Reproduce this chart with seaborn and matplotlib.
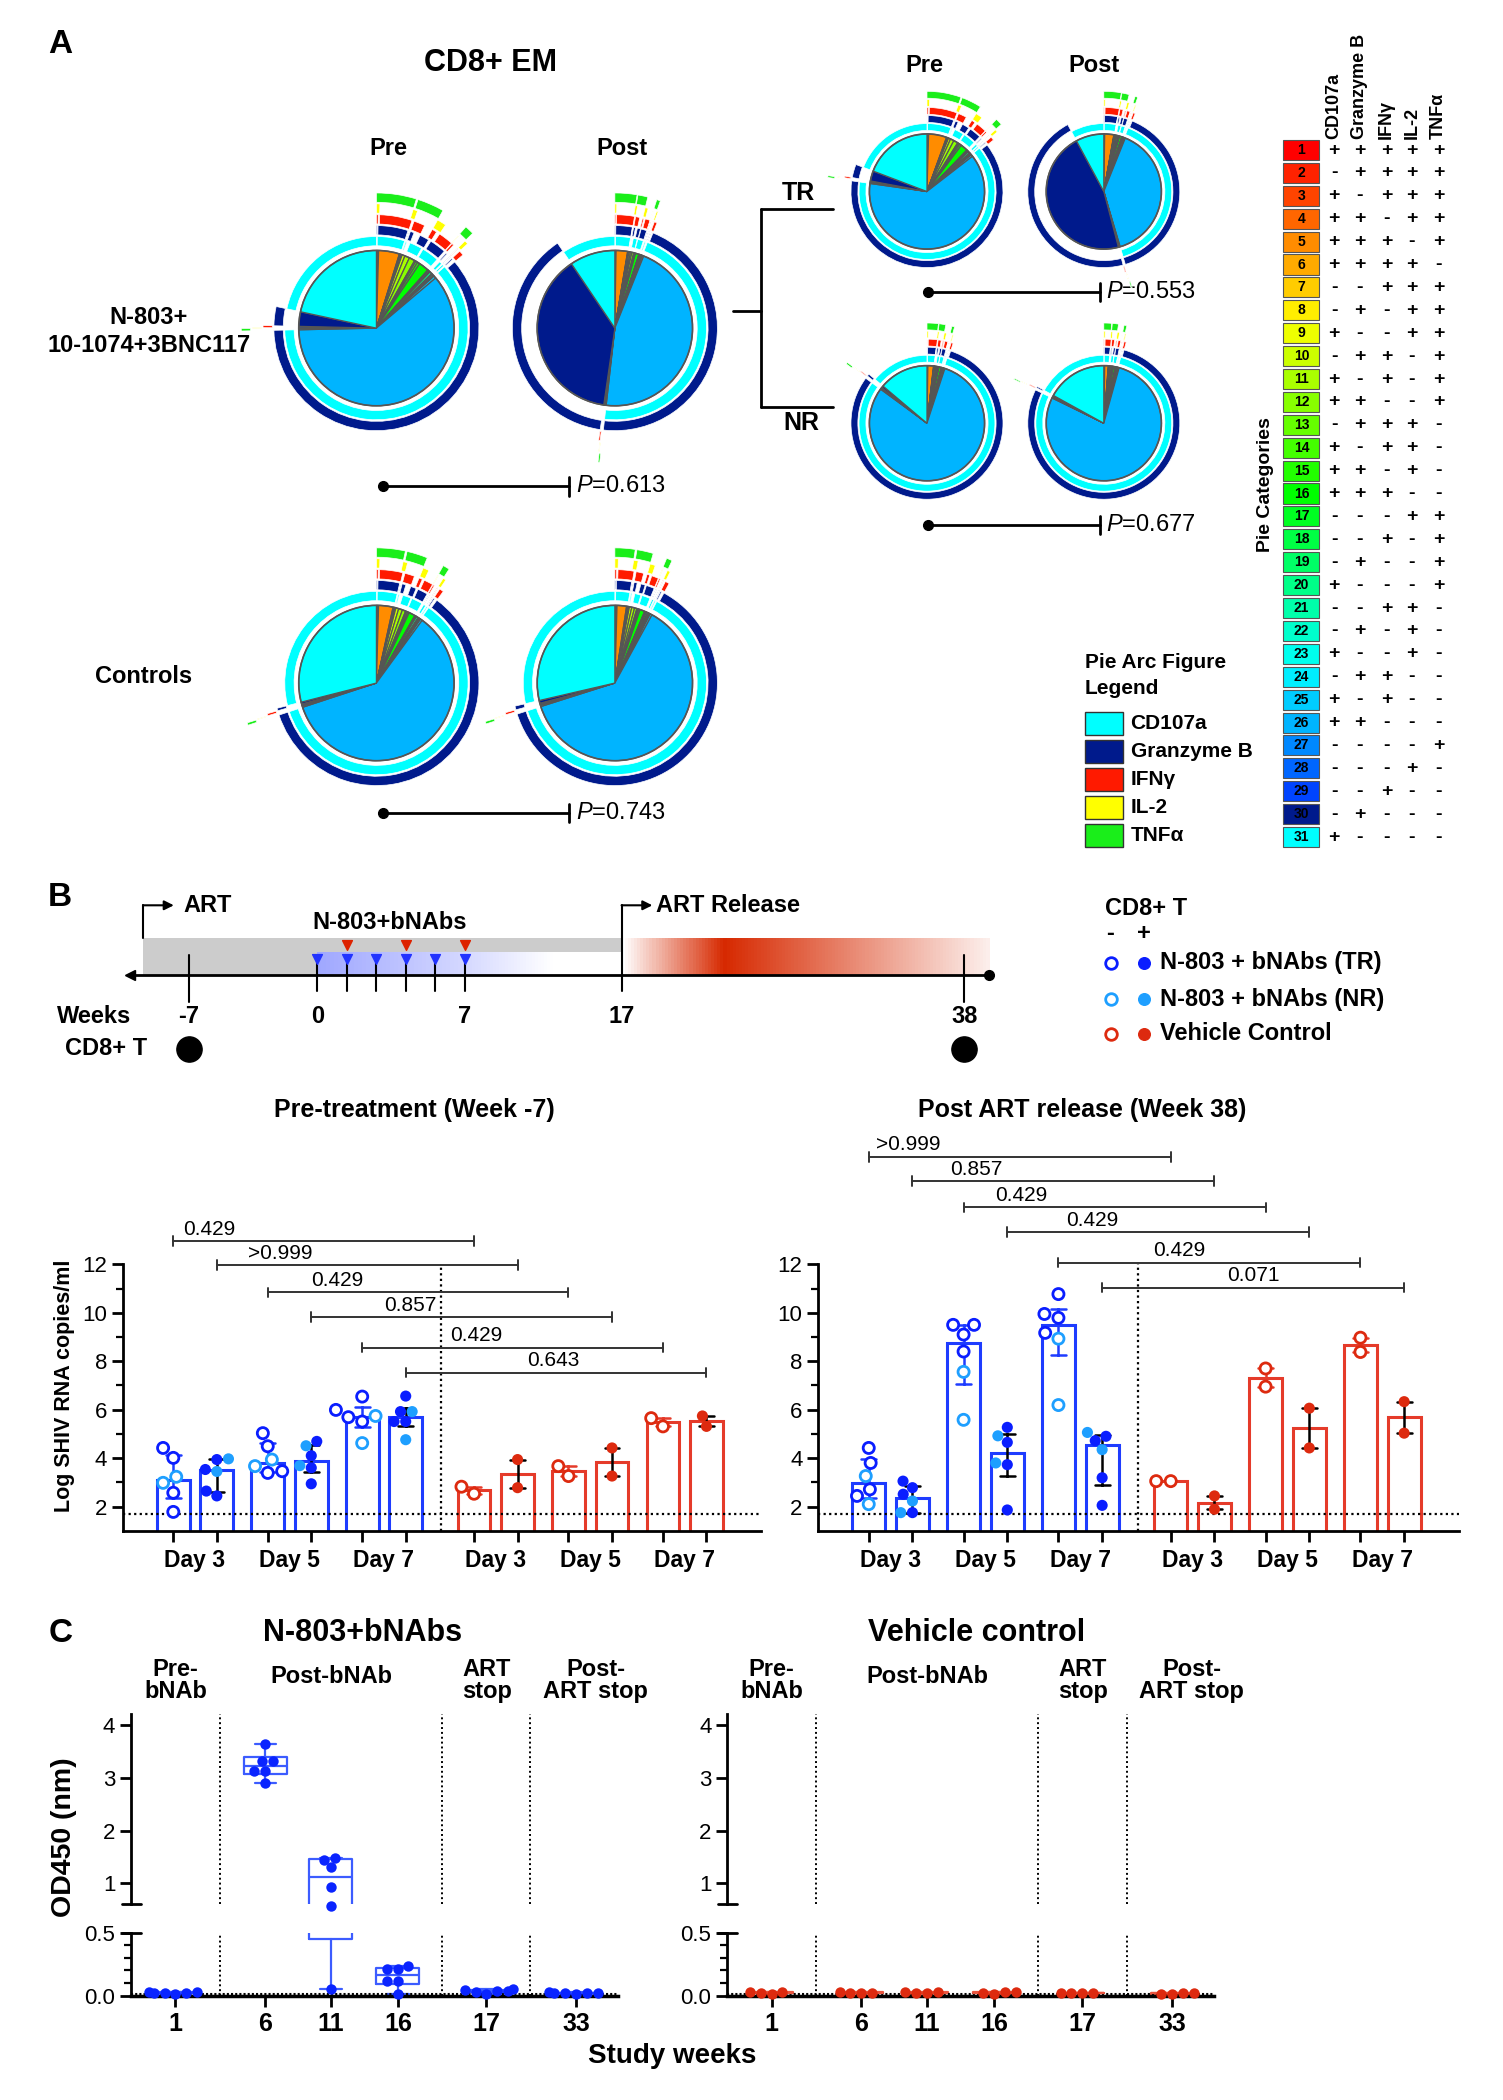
"""
Three-panel figure: SPICE pies with marker arcs (A), study timeline and
viral-load bars (B), anti-bNAb ELISA with broken y axis (C).
"""
import numpy as np
import pandas as pd
import matplotlib
matplotlib.use("Agg")
import matplotlib.pyplot as plt
import seaborn as sns
from matplotlib.patches import Wedge, Circle, Rectangle
from matplotlib.ticker import FixedLocator


# --------------------------------------------------------------------------- #
# Panel A data: % of CD8+ EM cells in each of the 31 Boolean categories
# --------------------------------------------------------------------------- #
markers = ["CD107a", "Granzyme B", "IFN\u03b3", "IL-2", "TNF\u03b1"]
marker_colors = ["#00ffff", "#001a8c", "#ff1a00", "#ffff00", "#1aee1a"]
categories = list(range(1, 32))
category_signs = [
    "+++++", "-++++", "+-+++", "++-++", "+++-+", "++++-", "--+++", "-+-++",
    "+--++", "-++-+", "+-+-+", "++--+", "-+++-", "+-++-", "++-+-", "+++--",
    "---++", "--+-+", "-+--+", "+---+", "--++-", "-+-+-", "+--+-", "-++--",
    "+-+--", "++---", "----+", "---+-", "--+--", "-+---", "+----",
]
category_colors = [
    "#ff0000", "#ff2200", "#ff4400", "#ff6600", "#ff8c00", "#ffaa00", "#ffcc00",
    "#ffee00", "#eeff00", "#ccff00", "#aaff00", "#88ff00", "#66ff00", "#44ff00",
    "#22ff00", "#00ff00", "#00ff22", "#00ff44", "#00ff66", "#00ff88", "#00ffaa",
    "#00ffcc", "#00ffee", "#00eeff", "#00ccff", "#00b4ff", "#0088ff", "#0066ff",
    "#0044ff", "#001a8c", "#00ffff",
]
pie_n803_pre = [0.1, 0.05, 0.1, 0.2, 4.3, 0.2, 0.1, 0.1, 0.2, 0.6,
                1.0, 1.2, 0.3, 0.4, 0.5, 2.1, 0.1, 0.3, 0.2, 0.5,
                0.1, 0.1, 0.3, 0.2, 0.5, 60.5, 0.3, 0.1, 0.3, 3.0, 21.5]
pie_n803_post = [0.05, 0.05, 0.05, 0.1, 2.4, 0.1, 0.05, 0.05, 0.1, 0.3,
                 0.3, 0.4, 0.1, 0.1, 0.2, 0.7, 0.05, 0.1, 0.1, 0.2,
                 0.05, 0.05, 0.1, 0.1, 0.3, 46.0, 0.2, 0.1, 0.2, 38.5, 9.5]
pie_tr_pre = [0.1, 0.05, 0.1, 0.2, 5.0, 0.2, 0.1, 0.1, 0.2, 0.6,
              1.0, 1.2, 0.3, 0.4, 0.5, 2.0, 0.1, 0.3, 0.2, 0.5,
              0.1, 0.1, 0.3, 0.2, 0.5, 62.0, 0.3, 0.1, 0.3, 2.8, 19.0]
pie_tr_post = [0.05, 0.05, 0.05, 0.1, 2.6, 0.1, 0.05, 0.05, 0.1, 0.3,
               0.3, 0.4, 0.1, 0.1, 0.2, 0.6, 0.05, 0.1, 0.1, 0.2,
               0.05, 0.05, 0.1, 0.1, 0.3, 40.0, 0.2, 0.1, 0.2, 47.0, 8.0]
pie_nr_pre = [0.05, 0.05, 0.05, 0.1, 1.6, 0.1, 0.05, 0.05, 0.1, 0.3,
              0.3, 0.3, 0.1, 0.1, 0.2, 0.6, 0.05, 0.1, 0.1, 0.2,
              0.05, 0.05, 0.1, 0.1, 0.3, 81.0, 0.3, 0.1, 0.2, 0.5, 14.0]
pie_nr_post = [0.05, 0.05, 0.05, 0.1, 1.0, 0.1, 0.05, 0.05, 0.1, 0.2,
               0.3, 0.3, 0.1, 0.1, 0.2, 0.5, 0.05, 0.1, 0.1, 0.2,
               0.05, 0.05, 0.1, 0.1, 0.3, 78.0, 0.2, 0.1, 0.2, 0.3, 17.0]
pie_ctrl_pre = [0.1, 0.05, 0.1, 0.2, 3.0, 0.2, 0.1, 0.1, 0.2, 0.6,
                0.8, 0.7, 0.2, 0.3, 0.3, 1.3, 0.1, 0.2, 0.1, 0.4,
                0.1, 0.1, 0.2, 0.2, 0.4, 60.0, 0.3, 0.1, 0.3, 0.4, 29.0]
pie_ctrl_post = [0.1, 0.05, 0.1, 0.2, 2.0, 0.2, 0.1, 0.1, 0.2, 0.5,
                 0.6, 0.5, 0.2, 0.2, 0.3, 1.0, 0.1, 0.2, 0.1, 0.3,
                 0.1, 0.1, 0.2, 0.2, 0.4, 63.0, 0.3, 0.1, 0.3, 0.6, 29.0]
pie_p_values = ["0.613", "0.553", "0.677", "0.743"]

# --------------------------------------------------------------------------- #
# Panel B data: log SHIV RNA per animal, Day 3/5/7 of co-culture
# --------------------------------------------------------------------------- #
day_labels = ["Day 3", "Day 5", "Day 7"]
timeline_weeks = [-7, 0, 7, 17, 38]
cd8_sample_weeks = [-7, 38]
n803_dose_weeks = [0, 1.4, 2.8, 4.2, 5.6, 7]
bnab_dose_weeks = [1.4, 4.2, 7]
art_start_week, art_release_week, study_end_week = -9.5, 17, 39.5

pre_tr_neg = [[4.42, 4.01, 2.57, 1.78], [5.03, 4.49, 3.46, 3.39], [6.54, 5.99, 5.69, 5.51]]
pre_nr_neg = [[2.98, 3.23], [3.94, 3.67], [5.74, 4.62]]
pre_tr_pos = [[3.94, 3.53, 2.64, 2.44], [4.69, 4.10, 3.60, 2.94], [6.56, 5.92, 5.51, 5.51]]
pre_nr_pos = [[3.97, 3.45], [4.51, 3.69], [5.92, 4.76]]
pre_veh_neg = [[2.53, 2.82], [3.26, 3.67], [5.31, 5.65]]
pre_veh_pos = [[3.94, 2.78], [4.42, 3.26], [5.74, 5.31]]

post_tr_neg = [[4.42, 3.80, 2.71, 2.44], [9.50, 9.50, 9.10, 8.40], [10.77, 9.95, 9.79, 9.17]]
post_nr_neg = [[3.26, 2.10], [7.56, 5.58], [8.93, 6.19]]
post_tr_pos = [[2.78, 3.05, 2.51, 1.75], [5.27, 4.65, 3.73, 1.86], [4.90, 4.72, 3.19, 2.05]]
post_nr_pos = [[2.23, 1.75], [4.92, 3.80], [5.06, 4.35]]
post_veh_neg = [[3.05, 3.05], [7.70, 6.95], [8.97, 8.38]]
post_veh_pos = [[2.44, 1.89], [6.06, 4.42], [6.33, 5.03]]

pre_p_values = ["0.429", ">0.999", "0.429", "0.857", "0.429", "0.643"]
post_p_values = [">0.999", "0.857", "0.429", "0.429", "0.429", "0.071"]
LOD = 1.7

# --------------------------------------------------------------------------- #
# Panel C data: OD450 per animal at each study week
# --------------------------------------------------------------------------- #
study_weeks = [1, 6, 11, 16, 17, 33]
od_n803 = [
    [0.020, 0.030, 0.015, 0.020, 0.025, 0.020],
    [3.63, 3.31, 3.31, 3.12, 3.12, 2.89],
    [1.45, 1.48, 1.30, 0.93, 0.58, 0.05],
    [0.236, 0.21, 0.21, 0.115, 0.115, 0.013],
    [0.030, 0.050, 0.040, 0.045, 0.010, 0.035],
    [0.020, 0.025, 0.020, 0.020, 0.015, 0.020],
]
od_vehicle = [
    [0.020, 0.030, 0.015, 0.025],
    [0.020, 0.030, 0.020, 0.022],
    [0.020, 0.030, 0.018, 0.025],
    [0.015, 0.025, 0.020, 0.025],
    [0.020, 0.020, 0.018, 0.020],
    [0.015, 0.020, 0.012, 0.018],
]

# colours
BLUE_TR, BLUE_NR, RED = "#0a1eff", "#1e9fff", "#dd2a0f"
BAR_BLUE, BAR_RED = "#1e3cff", "#e53b2a"
BOX_BLUE = "#3c5cff"
group_palette = {"TR": BLUE_TR, "NR": BLUE_NR, "Vehicle": RED}

# --------------------------------------------------------------------------- #
# Style
# --------------------------------------------------------------------------- #
sns.set_theme(style="ticks")
plt.rcParams.update({
    "font.family": ["Liberation Sans", "DejaVu Sans"],
    "mathtext.fontset": "custom",
    "mathtext.it": "Liberation Sans:italic",
    "mathtext.rm": "Liberation Sans",
    "text.color": "black",
    "axes.edgecolor": "black",
    "axes.linewidth": 2,
    "xtick.color": "black",
    "ytick.color": "black",
})

W, H = 1122, 1568                     # layout grid (reference units)
fig = plt.figure(figsize=(15.03, 21.0), dpi=100)


def frac_box(x0, y0, x1, y1):
    """Figure-fraction rectangle from layout-grid corners (y downwards)."""
    return [x0 / W, 1 - y1 / H, (x1 - x0) / W, (y1 - y0) / H]


ov = fig.add_axes([0, 0, 1, 1])
ov.set_xlim(0, W)
ov.set_ylim(H, 0)
ov.axis("off")


def label(x, y, s, size=17, weight="bold", ha="center", va="center", **kw):
    ov.text(x, y, s, fontsize=size, fontweight=weight, ha=ha, va=va, **kw)


# --------------------------------------------------------------------------- #
# Panel A
# --------------------------------------------------------------------------- #
def draw_pie(cx, cy, r, pct):
    ext = 1.8
    ax = fig.add_axes(frac_box(cx - ext * r, cy - ext * r, cx + ext * r, cy + ext * r))
    frac = np.asarray(pct, float)
    frac = frac / frac.sum()
    ax.pie(frac, colors=category_colors, startangle=90, counterclock=False,
           radius=1.0, wedgeprops=dict(edgecolor="#555555", linewidth=0.9))
    ax.add_patch(Circle((0, 0), 1.0, fill=False, ec="#555555", lw=1.2))
    edges = 90 - 360 * np.concatenate([[0], np.cumsum(frac)])
    n = len(category_signs)
    for k, col in enumerate(marker_colors):
        r_out = 1.18 + 0.14 * k
        positive = [s[k] == "+" for s in category_signs]
        i = 0
        while i < n:
            if not positive[i]:
                i += 1
                continue
            j = i
            while j + 1 < n and positive[j + 1]:
                j += 1
            ax.add_patch(Wedge((0, 0), r_out, edges[j + 1], edges[i], width=0.12,
                               fc=col, ec="white", lw=0.5))
            i = j + 1
    ax.set_xlim(-ext, ext)
    ax.set_ylim(-ext, ext)
    ax.set_aspect("equal")
    ax.axis("off")


def p_bar(x0, x1, y, p):
    ov.plot([x0, x1], [y, y], color="black", lw=2)
    ov.plot([x0], [y], "o", color="black", ms=7)
    ov.plot([x1, x1], [y - 7, y + 7], color="black", lw=2)
    ov.text(x1 + 5, y, "$\\mathit{P}$=" + p, fontsize=17, ha="left", va="center")


label(45, 33, "A", size=24)
label(366, 47, "CD8+ EM", size=22)
label(290, 111, "Pre", size=17)
label(464, 111, "Post", size=17)
label(111, 237, "N-803+", size=17)
label(111, 258, "10-1074+3BNC117", size=17)
label(107, 505, "Controls", size=17)
label(690, 49, "Pre", size=17)
label(817, 49, "Post", size=17)
label(596, 144, "TR", size=18)
label(598, 316, "NR", size=18)

draw_pie(281, 245, 58, pie_n803_pre)
draw_pie(459, 245, 58, pie_n803_post)
draw_pie(692, 143, 43, pie_tr_pre)
draw_pie(824, 143, 43, pie_tr_post)
draw_pie(692, 316, 43, pie_nr_pre)
draw_pie(824, 316, 43, pie_nr_post)
draw_pie(281, 510, 58, pie_ctrl_pre)
draw_pie(459, 510, 58, pie_ctrl_post)

p_bar(286, 425, 363, pie_p_values[0])
p_bar(693, 821, 218, pie_p_values[1])
p_bar(693, 821, 392, pie_p_values[2])
p_bar(286, 425, 607, pie_p_values[3])

for xs, ys in [([547, 568], [232, 232]), ([568, 568], [156, 304]),
               ([568, 622], [156, 156]), ([568, 622], [304, 304])]:
    ov.plot(xs, ys, color="black", lw=2)

# category table
row_y = 112 + 17.1 * np.arange(len(categories))
sign_x = [996, 1015, 1035, 1054, 1074]
for i, cat in enumerate(categories):
    ov.add_patch(Rectangle((958, row_y[i] - 7.5), 27, 15, fc=category_colors[i],
                           ec="#555555", lw=0.8))
    label(971.5, row_y[i], str(cat), size=10)
    for k, s in enumerate(category_signs[i]):
        label(sign_x[k], row_y[i], s, size=14)
for k, m in enumerate(markers):
    label(sign_x[k], 104, m, size=13, rotation=90, va="bottom")
label(945, 362, "Pie Categories", size=14, rotation=90)

label(810, 495, "Pie Arc Figure", size=15, ha="left")
label(810, 514, "Legend", size=15, ha="left")
for k, m in enumerate(markers):
    yk = 540 + 21 * k
    ov.add_patch(Rectangle((810, yk - 8.5), 28, 17, fc=marker_colors[k], ec="#333333", lw=1))
    label(844, yk, m, size=15, ha="left")

# --------------------------------------------------------------------------- #
# Panel B: timeline
# --------------------------------------------------------------------------- #
label(45, 670, "B", size=24)
tl_anchor_weeks = [-12, -7, 0, 7, 17, 38, 42]
tl_anchor_pos = [72.5, 141, 237, 347, 464, 720, 769]


def tl_fwd(w):
    return np.interp(w, tl_anchor_weeks, tl_anchor_pos)


def tl_inv(p):
    return np.interp(p, tl_anchor_pos, tl_anchor_weeks)


ax_t = fig.add_axes(frac_box(90, 660, 745, 800))
ax_t.set_xscale("function", functions=(tl_fwd, tl_inv))
ax_t.set_xlim(tl_inv(90), tl_inv(745))
ax_t.set_ylim(0, 1)
ax_t.axis("off")

Y_AX, Y_BAND, Y_LOW = 0.514, 0.714, 0.636
ax_t.axvspan(art_start_week, art_release_week, Y_AX, Y_BAND, color="#cccccc", lw=0)
blue_base = np.array([0.17, 0.24, 1.0])
steps = np.linspace(0, art_release_week, 90)
for a, b in zip(steps[:-1], steps[1:]):
    t = 0.45 * max(0.0, 1 - a / 12.5)
    ax_t.axvspan(a, b + 0.05, Y_AX, Y_LOW, color=(1 - t) + t * blue_base, lw=0)
red_base = np.array([0.84, 0.16, 0.0])
steps = np.linspace(art_release_week, study_end_week, 120)
for a, b in zip(steps[:-1], steps[1:]):
    t = (a - 17) / 6.2 if a < 23.2 else 1 - (a - 23.2) / 17.5
    t = float(np.clip(t, 0, 1))
    ax_t.axvspan(a, b + 0.05, Y_AX, Y_BAND, color=(1 - t) + t * red_base, lw=0)

ax_t.plot([tl_inv(97), study_end_week], [Y_AX, Y_AX], color="black", lw=2)
ax_t.plot([tl_inv(97)], [Y_AX], marker="<", color="black", ms=7)
ax_t.plot([study_end_week], [Y_AX], marker="o", color="black", ms=7)
for w in n803_dose_weeks:
    ax_t.plot([w, w], [0.43, 0.593], color="black", lw=1.5)
for w in cd8_sample_weeks:
    ax_t.plot([w, w], [0.37, 0.62], color="black", lw=1.5)
ax_t.plot([art_release_week, art_release_week], [0.43, 0.886], color="black", lw=1.5)
ax_t.plot([art_start_week, art_start_week], [Y_BAND, 0.886], color="black", lw=1.5)
for w0 in [art_start_week, art_release_week]:
    ax_t.annotate("", xy=(tl_inv(tl_fwd(w0) + 23), 0.886), xytext=(w0, 0.886),
                  arrowprops=dict(arrowstyle="-|>", color="black", lw=1.5,
                                  mutation_scale=14, shrinkA=0, shrinkB=0))
ax_t.scatter(n803_dose_weeks, [0.60] * len(n803_dose_weeks), marker="v", s=50,
             color="#2233ff", zorder=3)
ax_t.scatter(bnab_dose_weeks, [0.672] * len(bnab_dose_weeks), marker="v", s=50,
             color="#dd2200", zorder=3)
ax_t.scatter(cd8_sample_weeks, [0.121] * 2, s=330, color="black")
for w in timeline_weeks:
    ax_t.text(w, 0.293, str(w), fontsize=17, fontweight="bold", ha="center", va="center")

label(137, 676, "ART", ha="left")
label(490, 676, "ART Release", ha="left")
label(291, 689, "N-803+bNAbs")
label(424, 720, "Washout")
label(671, 713, "Rebound VL")
label(70, 759, "Weeks")
label(79, 783, "CD8+ T")

# legend for the bar charts
label(825, 678, "CD8+ T", ha="left")
label(829, 697, "-")
label(854, 697, "+")
for yk, col, name in [(719, BLUE_TR, "N-803 + bNAbs (TR)"),
                      (746, BLUE_NR, "N-803 + bNAbs (NR)"),
                      (772, RED, "Vehicle Control")]:
    ov.scatter([829], [yk], s=70, facecolor="white", edgecolor=col, linewidth=2)
    ov.scatter([854], [yk], s=70, color=col)
    label(866, yk, name, ha="left")

# --------------------------------------------------------------------------- #
# Panel B: viral load bars
# --------------------------------------------------------------------------- #
PAIR_STEP, ARM_GAP = 2.17, 0.40


def bar_pos(arm_idx, day, cd8_idx):
    return (arm_idx * 3 + day) * PAIR_STEP + cd8_idx + ARM_GAP * arm_idx


def iqr_weibull(v):
    return tuple(np.percentile(v, [25, 75], method="weibull"))


def long_table(series):
    rows = []
    for (arm, cd8, group), per_day in series.items():
        for d, vals in enumerate(per_day):
            for v in vals:
                rows.append(dict(arm=arm, cd8=cd8, group=group, day=d, value=v))
    df = pd.DataFrame(rows)
    df["pos"] = [bar_pos(a, d, c) for a, d, c in zip(df["arm"], df["day"], df["cd8"])]
    return df


vl_pre = long_table({(0, 0, "TR"): pre_tr_neg, (0, 0, "NR"): pre_nr_neg,
                     (0, 1, "TR"): pre_tr_pos, (0, 1, "NR"): pre_nr_pos,
                     (1, 0, "Vehicle"): pre_veh_neg, (1, 1, "Vehicle"): pre_veh_pos})
vl_post = long_table({(0, 0, "TR"): post_tr_neg, (0, 0, "NR"): post_nr_neg,
                      (0, 1, "TR"): post_tr_pos, (0, 1, "NR"): post_nr_pos,
                      (1, 0, "Vehicle"): post_veh_neg, (1, 1, "Vehicle"): post_veh_pos})


def vl_chart(ax, df, pvals, bracket_y, text_frac):
    for (arm, cd8), sub in df.groupby(["arm", "cd8"]):
        col = BAR_BLUE if arm == 0 else BAR_RED
        ecol = col if cd8 == 0 else "black"
        spacing = np.diff(np.unique(sub["pos"])).min()
        sns.barplot(data=sub, x="pos", y="value", native_scale=True, estimator="median",
                    errorbar=iqr_weibull, fill=False, color=col, linewidth=2.2,
                    width=0.75 / spacing, capsize=0.34 / spacing,
                    err_kws={"color": ecol, "linewidth": 1.8}, ax=ax)
        n0 = len(ax.collections)
        sns.swarmplot(data=sub, x="pos", y="value", hue="group", palette=group_palette,
                      native_scale=True, size=8, legend=False, ax=ax, zorder=4)
        if cd8 == 0:
            for coll in ax.collections[n0:]:
                fc = coll.get_facecolors()
                coll.set_facecolors("white")
                coll.set_edgecolors(fc)
                coll.set_linewidths(2)
    positions = sorted(df["pos"].unique())
    ax.set_xlim(-1.15, 13.5)
    ax.set_ylim(1, 17.5)
    ax.axhline(LOD, color="black", lw=1.6, ls=(0, (1, 1.5)))
    ax.plot([6.16, 6.16], [1, 12], color="black", lw=1.6, ls=(0, (1, 1.5)))
    for i, p in enumerate(pvals):
        day, c = divmod(i, 2)
        x0, x1, y = bar_pos(0, day, c), bar_pos(1, day, c), bracket_y[i]
        ax.plot([x0, x1], [y, y], color="#333333", lw=1.4)
        for xe in (x0, x1):
            ax.plot([xe, xe], [y - 0.2, y + 0.2], color="#333333", lw=1.4)
        ax.text(x0 + text_frac[i] * (x1 - x0), y + 0.1, p, fontsize=15,
                ha="center", va="bottom")
    for arm in (0, 1):
        for d, name in enumerate(day_labels):
            xc = (bar_pos(arm, d, 0) + bar_pos(arm, d, 1)) / 2
            ax.text(xc, -0.074, name, transform=ax.get_xaxis_transform(),
                    fontsize=16.5, fontweight="bold", ha="center", va="center")
    sns.despine(ax=ax)
    ax.spines["left"].set_bounds(1, 12)
    ax.set_yticks(range(2, 13, 2))
    ax.yaxis.set_minor_locator(FixedLocator([3, 5, 7, 9, 11]))
    ax.set_xticks(positions)
    ax.set_xticklabels([])
    ax.tick_params(axis="both", which="major", length=8, width=2, labelsize=16)
    ax.tick_params(axis="y", which="minor", length=5, width=1.6)
    ax.set_xlabel("")
    ax.set_ylabel("")


ax_pre = fig.add_axes(frac_box(92, 844.5, 568, 1143))
vl_chart(ax_pre, vl_pre, pre_p_values, [12.96, 11.96, 10.84, 9.82, 8.56, 7.53],
         [0.12, 0.21, 0.23, 0.33, 0.38, 0.49])
ax_post = fig.add_axes(frac_box(611, 844.5, 1089, 1143))
vl_chart(ax_post, vl_post, post_p_values, [16.44, 15.44, 14.35, 13.33, 12.07, 11.04],
         [0.13, 0.21, 0.19, 0.28, 0.40, 0.50])
label(309, 829, "Pre-treatment (Week -7)", size=18)
label(808, 829, "Post ART release (Week 38)", size=18)
label(48, 1035, "Log SHIV RNA copies/ml", size=15.5, rotation=90)

# --------------------------------------------------------------------------- #
# Panel C: anti-bNAb ELISA, broken y axis
# --------------------------------------------------------------------------- #
c_pos = [0, 1.34, 2.32, 3.32, 4.64, 5.98]
c_separators = [0.67, 3.98, 5.30]
c_sections = [("Pre-\nbNAb", 0.0), ("Post-bNAb", 2.33), ("ART\nstop", 4.65),
              ("Post-\nART stop", 6.27)]


def box_stats(v):
    v = np.asarray(v, float)
    q1, med, q3 = np.percentile(v, [25, 50, 75], method="weibull")
    return dict(med=med, q1=q1, q3=q3, whislo=v.min(), whishi=v.max(), fliers=[])


def elisa_chart(x0, x1, series, pt_col, box_col):
    ax_top = fig.add_axes(frac_box(x0, 1280, x1, 1422))
    ax_bot = fig.add_axes(frac_box(x0, 1443, x1, 1490))
    df = pd.DataFrame([dict(pos=c_pos[i], od=v) for i, vals in enumerate(series) for v in vals])
    stats = [box_stats(v) for v in series]
    for ax, lo, hi in [(ax_top, 0.55, 5), (ax_bot, -1, 0.55)]:
        ax.bxp(stats, positions=c_pos, widths=0.64, showfliers=False, manage_ticks=False,
               boxprops=dict(color=box_col, lw=1.6), medianprops=dict(color=box_col, lw=1.6),
               whiskerprops=dict(color=box_col, lw=1.6), capprops=dict(color=box_col, lw=1.6))
        sub = df[(df["od"] >= lo) & (df["od"] < hi)]
        if len(sub):
            sns.swarmplot(data=sub, x="pos", y="od", native_scale=True, color=pt_col,
                          size=7.5, ax=ax, clip_on=False, zorder=5)
        for xs in c_separators:
            ax.axvline(xs, color="black", lw=1.4, ls=(0, (1, 1.5)))
        ax.set_xlim(-0.66, 6.6)
        ax.set_xlabel("")
        ax.set_ylabel("")
    ax_top.set_ylim(0.6, 4.2)
    ax_bot.set_ylim(0, 0.5)
    sns.despine(ax=ax_top, bottom=True)
    sns.despine(ax=ax_bot)
    ax_top.set_xticks([])
    ax_top.set_yticks([1, 2, 3, 4])
    ax_top.tick_params(axis="y", length=8, width=2, labelsize=16)
    ax_bot.set_yticks([0, 0.5])
    ax_bot.set_yticklabels(["0.0", "0.5"])
    ax_bot.yaxis.set_minor_locator(FixedLocator([0.1, 0.2, 0.3, 0.4]))
    ax_bot.tick_params(axis="y", which="major", length=8, width=2, labelsize=16)
    ax_bot.tick_params(axis="y", which="minor", length=5, width=1.6)
    ax_bot.set_xticks(c_pos)
    ax_bot.set_xticklabels([str(w) for w in study_weeks], fontweight="bold")
    ax_bot.tick_params(axis="x", length=8, width=2, labelsize=18)
    ax_bot.spines["bottom"].set_linewidth(2.5)
    ax_bot.axhline(0.012, color="black", lw=1.5, ls=(0, (1, 1)))
    ax_top.plot([-0.02, 0.02], [0.6, 0.6], color="black", lw=2,
                transform=ax_top.get_yaxis_transform(), clip_on=False)
    ax_bot.plot([-0.02, 0.02], [0.5, 0.5], color="black", lw=2,
                transform=ax_bot.get_yaxis_transform(), clip_on=False)
    for name, xs in c_sections:
        ax_top.text(xs, 1.18 if "\n" in name else 1.197, name,
                    transform=ax_top.get_xaxis_transform(), fontsize=17,
                    fontweight="bold", ha="center", va="center", linespacing=0.95)


label(45, 1220, "C", size=24)
elisa_chart(98, 461, od_n803, "#0a24ff", BOX_BLUE)
elisa_chart(543, 906, od_vehicle, RED, "#e8553f")
label(271, 1219, "N-803+bNAbs", size=22)
label(729, 1219, "Vehicle control", size=22)
label(48, 1372, "OD450 (nm)", size=20.5, rotation=90)
label(502, 1535, "Study weeks", size=20)

fig.savefig("out.png", dpi=100)
